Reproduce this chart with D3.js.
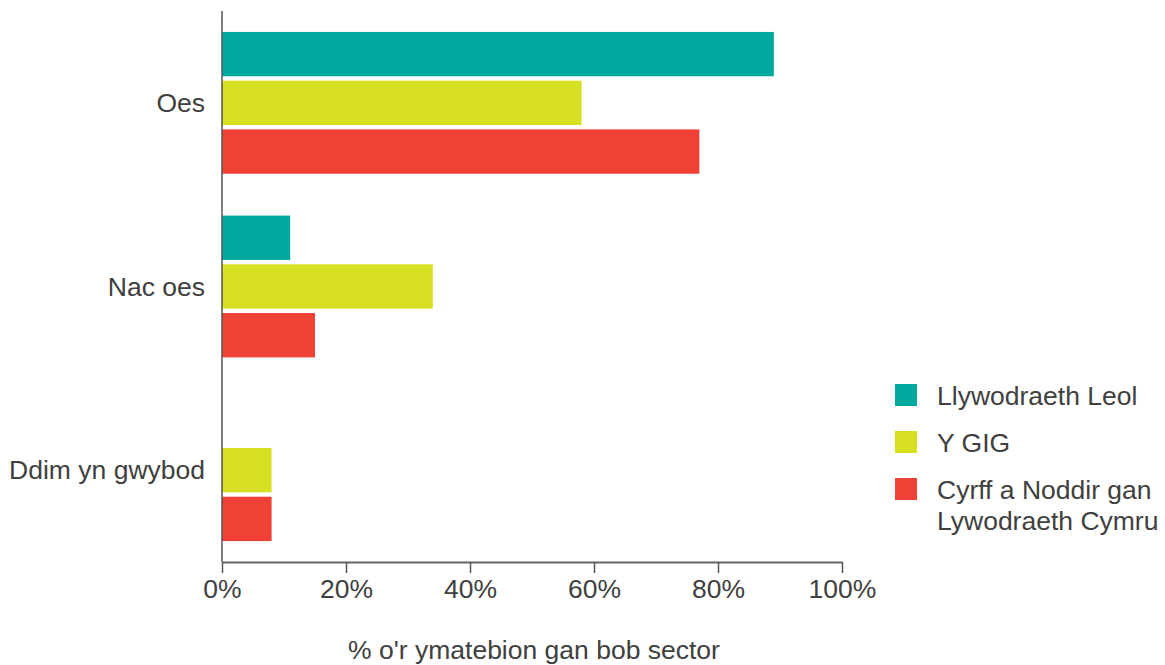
<!DOCTYPE html>
<html><head><meta charset="utf-8">
<script src="https://cdn.jsdelivr.net/npm/d3@7"></script>
<style>body{margin:0;background:#fff}svg{display:block}text{font-family:"Liberation Sans",Arial,sans-serif;fill:#404040}</style>
</head><body><svg id="c" width="1165" height="665"></svg>
<script>
const categories = ["Oes", "Nac oes", "Ddim yn gwybod"];
const seriesNames = ["Llywodraeth Leol", "Y GIG", "Cyrff a Noddir gan Llywodraeth Cymru"];
const legendLabels = [["Llywodraeth Leol"], ["Y GIG"], ["Cyrff a Noddir gan", "Lywodraeth Cymru"]];
const llywodraethLeol = [89, 11, 0];
const yGIG = [58, 34, 8];
const cyrff = [77, 15, 8];
const xTicks = [0, 20, 40, 60, 80, 100];
const colors = ["#00A99D", "#D7DF23", "#EF4136"];
const series = [llywodraethLeol, yGIG, cyrff];
const fs = "26.5px";

const svg = d3.select("#c");
const x = d3.scaleLinear().domain([0, 100]).range([222, 842]);
const y0 = d3.scaleBand().domain(categories).range([11, 562]).paddingInner(0.228).paddingOuter(0.114);
const y1 = d3.scaleBand().domain(seriesNames).range([0, y0.bandwidth()]).paddingInner(0.09).paddingOuter(0);

const g = svg.append("g");
categories.forEach((cat, ci) => {
  series.forEach((s, si) => {
    if (s[ci] > 0) {
      g.append("rect")
        .attr("x", x(0))
        .attr("y", y0(cat) + y1(seriesNames[si]))
        .attr("width", x(s[ci]) - x(0))
        .attr("height", y1.bandwidth())
        .attr("fill", colors[si]);
    }
  });
  svg.append("text").attr("x", 205).attr("y", y0(cat) + y0.bandwidth() / 2)
    .attr("text-anchor", "end").attr("dominant-baseline", "central")
    .style("font-size", fs).text(cat);
});

svg.append("line").attr("x1", 222).attr("x2", 222).attr("y1", 11).attr("y2", 562)
  .attr("stroke", "#555").attr("stroke-width", 1.5);

const xAxis = svg.append("g").attr("transform", "translate(0,562)")
  .call(d3.axisBottom(x).tickValues(xTicks).tickFormat(d => d + "%").tickSize(11).tickSizeOuter(0).tickPadding(6));
xAxis.select(".domain").attr("stroke", "#666").attr("stroke-width", 2);
xAxis.selectAll(".tick line").attr("stroke", "#555").attr("stroke-width", 1.5);
xAxis.selectAll(".tick text").style("font-size", fs).attr("fill", "#404040")
  .style("font-family", '"Liberation Sans",Arial,sans-serif');

svg.append("text").attr("x", 534).attr("y", 659).attr("text-anchor", "middle")
  .style("font-size", fs).text("% o'r ymatebion gan bob sector");

const legTop = [384, 431, 478];
legendLabels.forEach((lines, i) => {
  svg.append("rect").attr("x", 895).attr("y", legTop[i]).attr("width", 22).attr("height", 22).attr("fill", colors[i]);
  const t = svg.append("text").attr("x", 937).attr("y", legTop[i] + 21).style("font-size", fs);
  lines.forEach((l, li) => t.append("tspan").attr("x", 937).attr("dy", li === 0 ? 0 : 31).text(l));
});
</script></body></html>
